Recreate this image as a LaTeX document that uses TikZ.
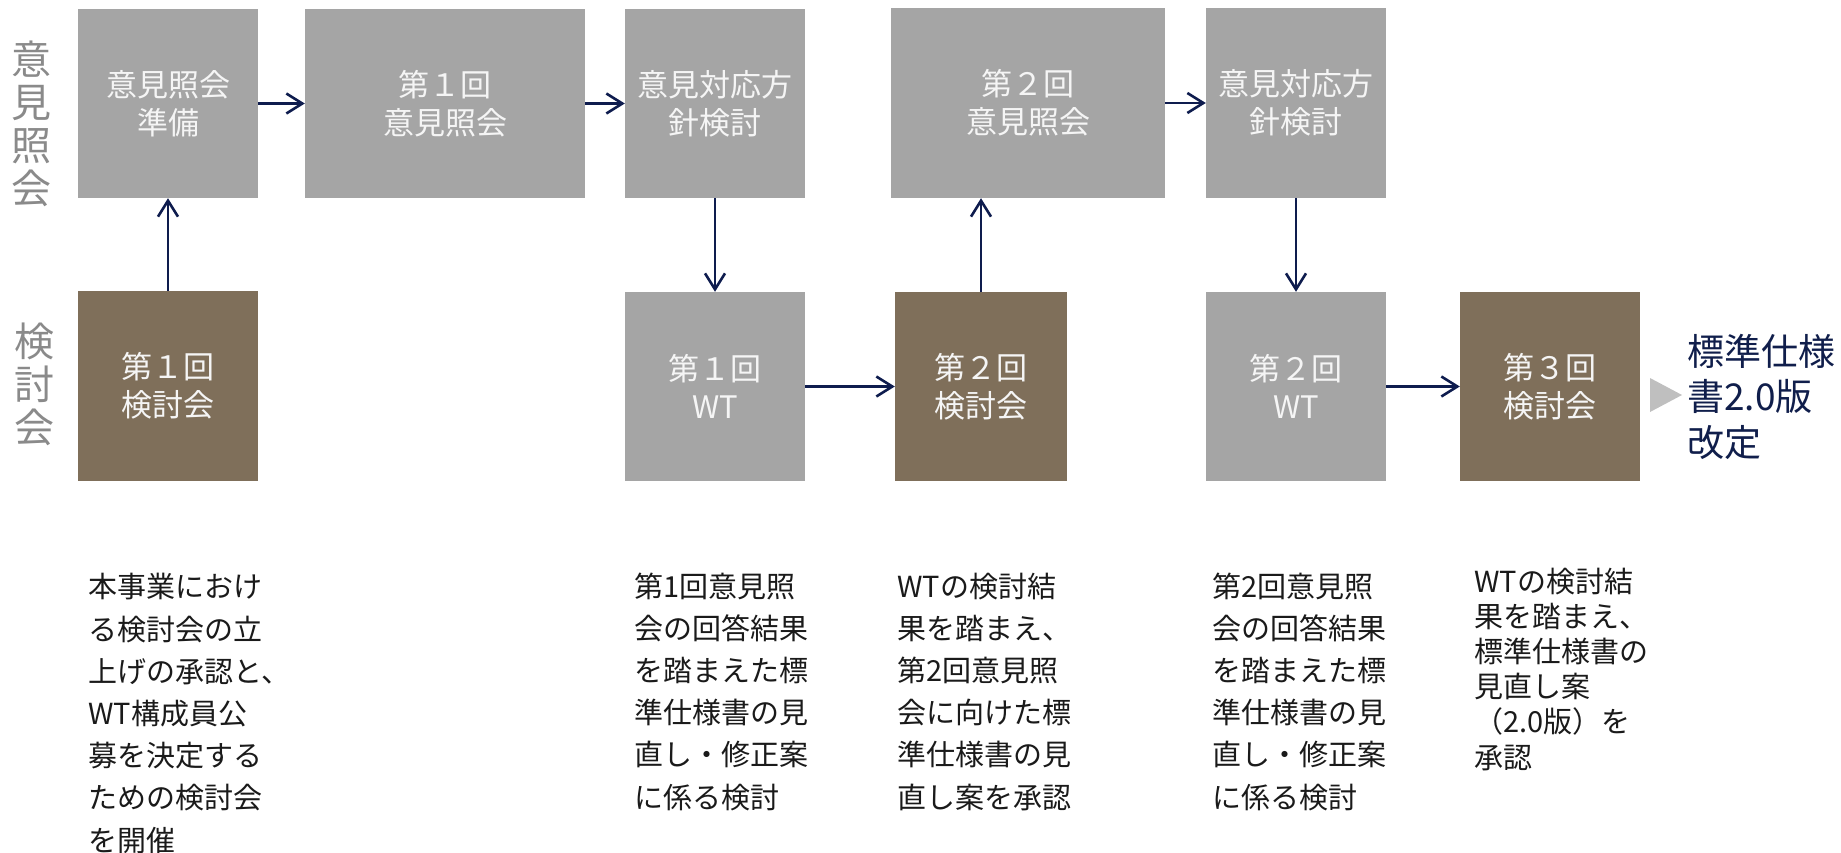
\documentclass[tikz,border=0pt]{standalone}
\usepackage{fontspec}
\setmainfont{Noto Sans CJK JP}
\usetikzlibrary{arrows.meta}
\definecolor{boxgray}{RGB}{165,165,165}
\definecolor{boxbrown}{RGB}{127,111,90}
\definecolor{navy}{RGB}{14,28,78}
\definecolor{navytext}{RGB}{16,30,75}
\definecolor{lblgray}{RGB}{138,138,138}
\definecolor{trigray}{RGB}{191,191,191}
\definecolor{boxtext}{RGB}{245,245,245}
\definecolor{descblack}{RGB}{26,26,26}
\begin{document}
\begin{tikzpicture}[x=1pt,y=-1pt,
  box/.style={draw=none, inner sep=0pt, align=center, text=boxtext, font=\fontsize{31}{38}\selectfont},
  graybox/.style={box, fill=boxgray},
  brownbox/.style={box, fill=boxbrown},
  conn/.style={draw=navy, line width=2.6pt, -{Straight Barb[length=16pt,width=20pt]}},
  desc/.style={anchor=base west, inner sep=0pt, align=left, text=descblack, font=\fontsize{29}{42.2}\selectfont},
  lane/.style={inner sep=0pt, align=center, text=lblgray, font=\fontsize{40}{43}\selectfont},
]
\useasboundingbox (0,0) rectangle (1841,852);

% lane labels
\node[lane] (L1) at (31.5,124) {意\\見\\照\\会};
\node[lane] (L2) at (34.5,384) {検\\討\\会};

% boxes
\node[graybox, minimum width=180pt, minimum height=189pt] (A) at (168,103.5) {意見照会\\準備};
\node[graybox, minimum width=280pt, minimum height=189pt] (B) at (445,103.5) {第１回\\意見照会};
\node[brownbox, minimum width=180pt, minimum height=190pt] (C) at (168,386) {第１回\\検討会};
\node[graybox, minimum width=180pt, minimum height=189pt] (D) at (715,103.5) {意見対応方\\針検討};
\node[graybox, minimum width=274pt, minimum height=190pt] (E) at (1028,103) {第２回\\意見照会};
\node[graybox, minimum width=180pt, minimum height=189pt] (F) at (715,386.5) {第１回\\WT};
\node[brownbox, minimum width=172pt, minimum height=189pt] (G) at (981,386.5) {第２回\\検討会};
\node[graybox, minimum width=180pt, minimum height=190pt] (H) at (1296,103) {意見対応方\\針検討};
\node[graybox, minimum width=180pt, minimum height=189pt] (I) at (1296,386.5) {第２回\\WT};
\node[brownbox, minimum width=180pt, minimum height=189pt] (J) at (1550,386.5) {第３回\\検討会};

% connectors
\draw[conn] (C.north) -- (A.south);
\draw[conn] (A.east) -- (B.west);
\draw[conn] (B.east) -- (D.west);
\draw[conn] (D.south) -- (F.north);
\draw[conn] (F.east) -- (G.west);
\draw[conn] (G.north) -- (G.north |- E.south);
\draw[conn] (E.east) -- (H.west);
\draw[conn] (H.south) -- (I.north);
\draw[conn] (I.east) -- (J.west);

% result
\fill[trigray] (1650,378) -- (1682,395) -- (1650,412) -- cycle;
\node[anchor=base west, inner sep=0pt, align=left, text=navytext, font=\fontsize{37}{45.5}\selectfont] (R) at (1687,456) {標準仕様\\書2.0版\\改定};

% descriptions (base anchor = baseline of last line)
\node[desc] (T1) at (88,851) {本事業におけ\\る検討会の立\\上げの承認と、\\WT構成員公\\募を決定する\\ための検討会\\を開催};
\node[desc] (T2) at (634,808) {第1回意見照\\会の回答結果\\を踏まえた標\\準仕様書の見\\直し・修正案\\に係る検討};
\node[desc] (T3) at (897,808) {WTの検討結\\果を踏まえ、\\第2回意見照\\会に向けた標\\準仕様書の見\\直し案を承認};
\node[desc] (T4) at (1212,808) {第2回意見照\\会の回答結果\\を踏まえた標\\準仕様書の見\\直し・修正案\\に係る検討};
\node[desc, font=\fontsize{29}{35.2}\selectfont] (T5) at (1474,768) {WTの検討結\\果を踏まえ、\\標準仕様書の\\見直し案\\（2.0版）を\\承認};
\end{tikzpicture}
\end{document}
